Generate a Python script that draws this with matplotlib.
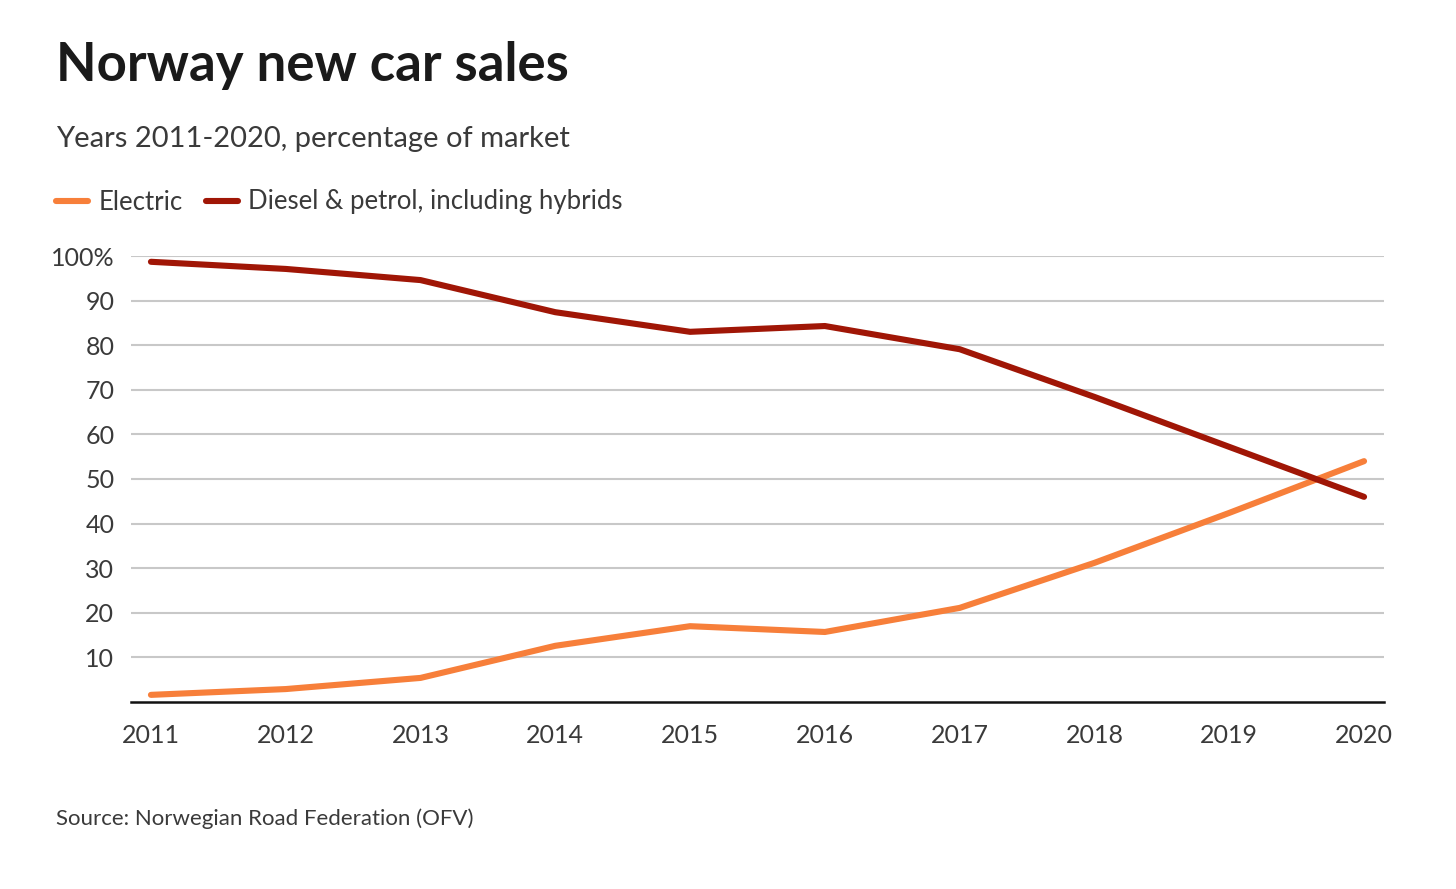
"""Norway new car sales, 2011-2020, share of market by fuel type."""

import matplotlib

matplotlib.use("Agg")
import matplotlib.pyplot as plt

# === DATA ===

YEARS = [2011, 2012, 2013, 2014, 2015, 2016, 2017, 2018, 2019, 2020]
ELECTRIC = [1.6, 2.9, 5.4, 12.6, 17.0, 15.7, 21.1, 31.2, 42.4, 54.0]
DIESEL_PETROL = [98.7, 97.1, 94.6, 87.4, 83.0, 84.3, 79.1, 68.4, 57.2, 46.0]

Y_TICKS = [10, 20, 30, 40, 50, 60, 70, 80, 90, 100]
Y_TICK_LABELS = ["10", "20", "30", "40", "50", "60", "70", "80", "90", "100%"]

ORANGE = "#f77f3a"
DARK_RED = "#a01606"
TEXT = "#3a3a3a"

plt.rcParams["font.family"] = ["Lato", "DejaVu Sans"]

fig = plt.figure(figsize=(14.56, 8.89), dpi=100)
ax = fig.add_axes([131 / 1456, 1 - 702 / 889, (1384 - 131) / 1456, (702 - 256) / 889])

line_e, = ax.plot(YEARS, ELECTRIC, color=ORANGE, lw=4.4, solid_capstyle="round",
                  label="Electric", zorder=3)
line_d, = ax.plot(YEARS, DIESEL_PETROL, color=DARK_RED, lw=4.4, solid_capstyle="round",
                  label="Diesel & petrol, including hybrids", zorder=3)

ax.set_xlim(2011 - 0.148, 2020 + 0.148)
ax.set_ylim(0, 100)
ax.set_xticks(YEARS)
ax.set_xticklabels([str(y) for y in YEARS])
ax.set_yticks(Y_TICKS)
ax.set_yticklabels(Y_TICK_LABELS)

ax.grid(axis="y", color="#c8c8c8", lw=1.5, zorder=1)
for side in ("top", "right", "left"):
    ax.spines[side].set_visible(False)
ax.spines["bottom"].set_color("#111111")
ax.spines["bottom"].set_linewidth(1.8)
ax.tick_params(axis="both", length=0, labelsize=18, colors=TEXT)
ax.tick_params(axis="x", pad=16)
ax.tick_params(axis="y", pad=12)

fig.text(56 / 1456, 1 - 65 / 889, "Norway new car sales", fontsize=38, fontweight="bold",
         color="#1a1a1a", va="center", ha="left")
fig.text(56 / 1456, 1 - 139 / 889, "Years 2011-2020, percentage of market", fontsize=21,
         color=TEXT, va="center", ha="left")
fig.text(56 / 1456, 1 - 819 / 889, "Source: Norwegian Road Federation (OFV)", fontsize=16,
         color=TEXT, va="center", ha="left")

fig.legend(handles=[line_e, line_d], loc="center left",
           bbox_to_anchor=(56 / 1456, 1 - 202 / 889), ncol=2, frameon=False,
           fontsize=18.5, labelcolor=TEXT, handlelength=1.25, handletextpad=0.4,
           columnspacing=0.9, borderpad=0, borderaxespad=0)

fig.savefig("out.png", dpi=100)
